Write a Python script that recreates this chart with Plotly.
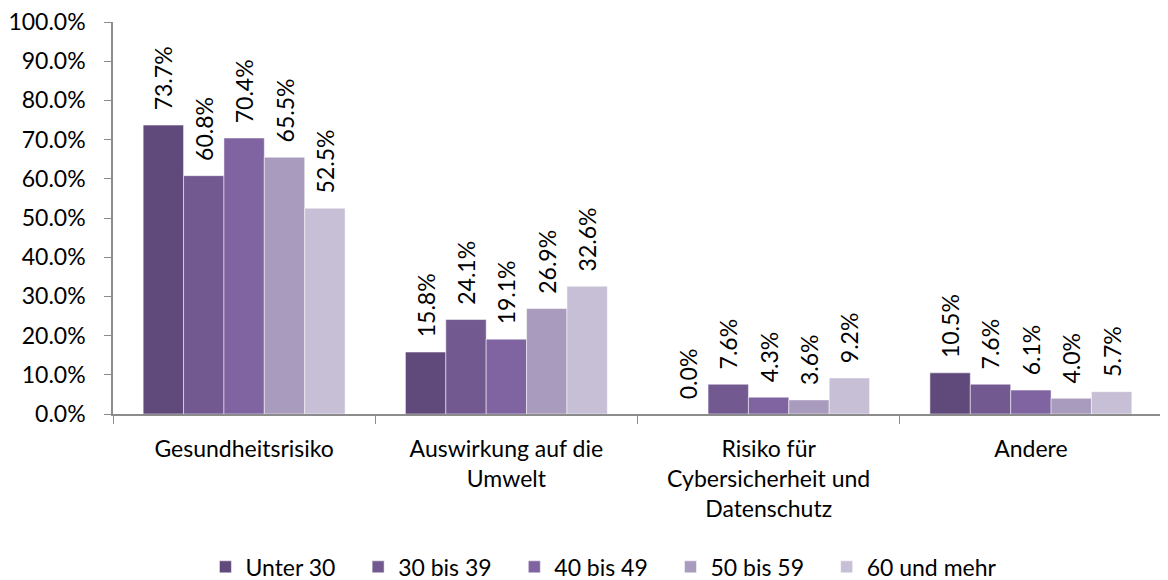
import plotly.graph_objects as go

categories = ['Gesundheitsrisiko', 'Auswirkung auf die<br>Umwelt',
              'Risiko für<br>Cybersicherheit und<br>Datenschutz', 'Andere']
groups = ['Unter 30', '30 bis 39', '40 bis 49', '50 bis 59', '60 und mehr']
unter_30 = [73.7, 15.8, 0.0, 10.5]
bis_39 = [60.8, 24.1, 7.6, 7.6]
bis_49 = [70.4, 19.1, 4.3, 6.1]
bis_59 = [65.5, 26.9, 3.6, 4.0]
und_mehr = [52.5, 32.6, 9.2, 5.7]
series = [unter_30, bis_39, bis_49, bis_59, und_mehr]
colors = ['#604A7B', '#725A91', '#8064A2', '#A99BBD', '#C7BFD6']

font_family = 'Lato, Open Sans, sans-serif'
fs = 23
pad = '\u00a0' * 2  # small gap between bar top and rotated label
gap = '\u00a0' * 3  # extra space between legend entries

fig = go.Figure()
for i, (name, vals, col) in enumerate(zip(groups, series, colors)):
    label = name if i == len(groups) - 1 else name + gap
    fig.add_trace(go.Bar(x=categories, y=vals, name=label,
                         marker=dict(color=col, line=dict(color='white', width=0.5)),
                         text=[f'{pad}{v:.1f}%' for v in vals],
                         textposition='outside', textangle=-90,
                         constraintext='none',
                         textfont=dict(size=fs, color='black'),
                         cliponaxis=False))

# page body adds an 8px margin, so the figure is 8px smaller and margins shifted
fig.update_layout(
    barmode='group',
    bargap=0.23,
    bargroupgap=0,
    width=1160, height=572,
    margin=dict(l=105, r=6, t=14, b=166, autoexpand=False),
    paper_bgcolor='white', plot_bgcolor='white',
    font=dict(family=font_family, size=fs, color='black'),
    legend=dict(orientation='h', x=0.468, xanchor='center',
                y=-0.39, yanchor='middle',
                font=dict(size=fs), traceorder='normal', itemwidth=30),
    xaxis=dict(showline=True, linecolor='#8C8C8C', linewidth=1.5, ticks='outside',
               tickson='boundaries', ticklen=8, tickcolor='#8C8C8C',
               ticklabelstandoff=14, automargin=False,
               tickfont=dict(size=fs)),
    yaxis=dict(range=[0, 100], dtick=10, ticksuffix='%', tickformat='.1f',
               showgrid=False, showline=True, linecolor='#8C8C8C', linewidth=1.5,
               ticks='outside', ticklen=7, tickcolor='#8C8C8C', zeroline=False,
               ticklabeloverflow='allow',
               ticklabelstandoff=14, automargin=False, tickfont=dict(size=fs)),
)

fig.write_html('out.html')
